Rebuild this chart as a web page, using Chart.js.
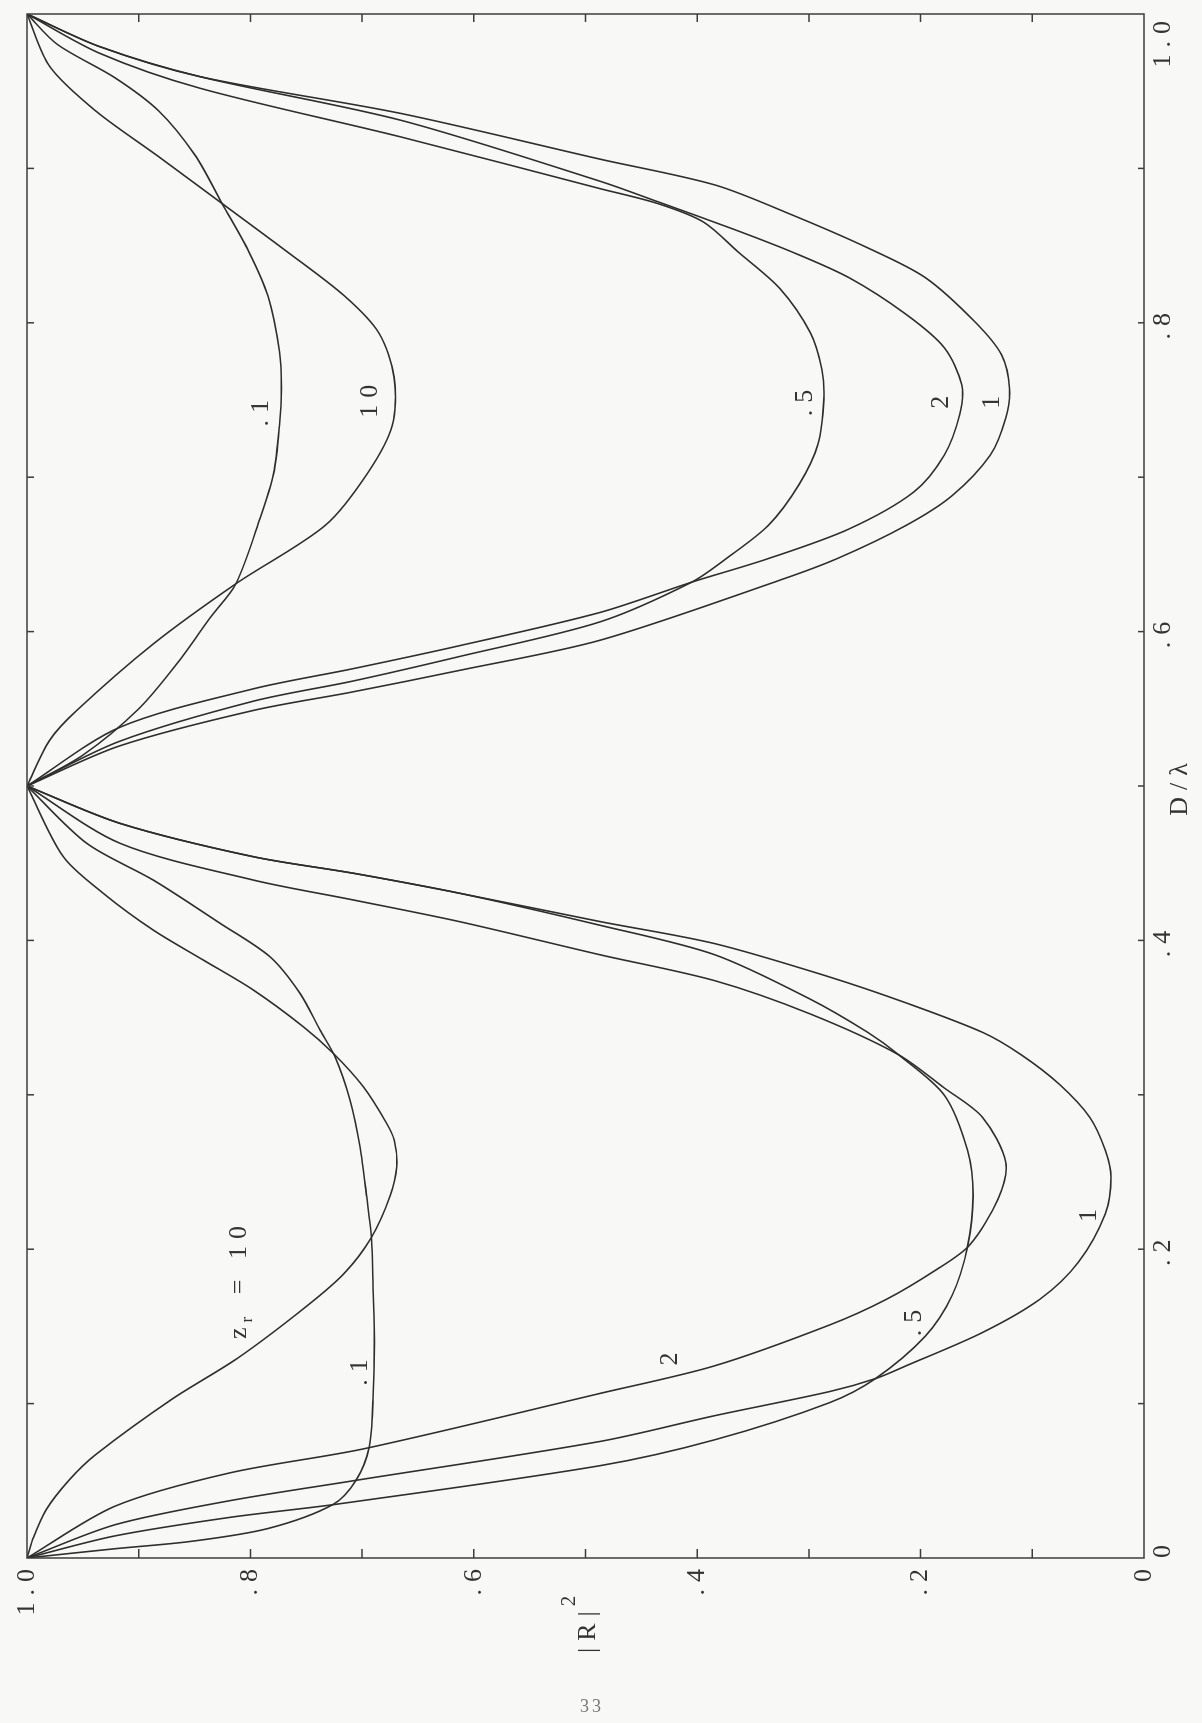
<!DOCTYPE html>
<html>
<head>
<meta charset="utf-8">
<script src="https://cdn.jsdelivr.net/npm/chart.js@4.4.1/dist/chart.umd.min.js"></script>
<style>
html, body { margin: 0; width: 1202px; height: 1723px; overflow: hidden; background: #f8f8f7; }
#turn { position: absolute; left: 0; top: 0; width: 1723px; height: 1202px;
        transform-origin: 0 0; transform: translate(0, 1723px) rotate(-90deg); }
#page { position: absolute; left: 580px; top: 1696px; font: 18px "Liberation Serif", serif;
        color: #777; letter-spacing: 3px; }
</style>
</head>
<body>
<div id="turn"><canvas id="chart" width="1723" height="1202"></canvas></div>
<div id="page">33</div>
<script>
// points are [D/lambda, |R|^2]; each z_r curve in two halves
const z10A = [[0,1],[0.0119,0.995],[0.0311,0.983],[0.0503,0.9625],[0.067,0.9385],[0.103,0.87],[0.1293,0.8117],[0.1629,0.75],[0.1845,0.7158],[0.2073,0.6919],[0.2348,0.6747],[0.2534,0.669],[0.2707,0.6713],[0.2815,0.678],[0.3052,0.6989],[0.3269,0.7258],[0.3441,0.7526],[0.3679,0.7974],[0.3873,0.8422],[0.4067,0.887],[0.4305,0.9317],[0.4542,0.9675],[0.5,1]];
const z01A = [[0,1],[0.006,0.9214],[0.0108,0.8528],[0.0191,0.7843],[0.0347,0.726],[0.0503,0.7055],[0.0719,0.6936],[0.103,0.6902],[0.1389,0.689],[0.1749,0.6902],[0.2072,0.6916],[0.234,0.6959],[0.2664,0.7019],[0.2966,0.7108],[0.3247,0.7243],[0.342,0.7377],[0.3657,0.7556],[0.3894,0.7825],[0.4111,0.8272],[0.4391,0.887],[0.4629,0.9466],[0.5,1]];
const z2A = [[0,1],[0.0335,0.9214],[0.0551,0.8186],[0.0707,0.6987],[0.1066,0.487],[0.1245,0.3842],[0.1509,0.2815],[0.1677,0.2301],[0.1869,0.1855],[0.2025,0.1564],[0.2324,0.1307],[0.2563,0.1238],[0.2853,0.1444],[0.3044,0.1787],[0.326,0.2198],[0.3523,0.2986],[0.3739,0.3842],[0.3907,0.487],[0.4121,0.6124],[0.4262,0.7079],[0.4391,0.7974],[0.4629,0.9167],[0.5,1]];
const z1A = [[0,1],[0.0215,0.9214],[0.0371,0.8186],[0.0503,0.7055],[0.0755,0.487],[0.0922,0.3842],[0.1078,0.2815],[0.1162,0.2404],[0.1245,0.2129],[0.1461,0.1444],[0.1677,0.093],[0.1916,0.0587],[0.2228,0.0347],[0.2468,0.0296],[0.2642,0.0347],[0.2853,0.0484],[0.3069,0.0759],[0.326,0.1101],[0.3404,0.1444],[0.3595,0.2129],[0.3763,0.2815],[0.3979,0.3842],[0.4122,0.487],[0.4305,0.6124],[0.4435,0.7079],[0.4542,0.7974],[0.4758,0.9167],[0.5,1]];
const z05A = [[0,1],[0.0143,0.9214],[0.0263,0.8186],[0.0347,0.7244],[0.0598,0.487],[0.0766,0.3842],[0.1006,0.2815],[0.1162,0.2404],[0.1437,0.1958],[0.1701,0.1718],[0.2012,0.1581],[0.2348,0.153],[0.2642,0.1581],[0.2997,0.1787],[0.326,0.2198],[0.3404,0.2472],[0.3619,0.2986],[0.3907,0.3842],[0.4098,0.487],[0.4305,0.6124],[0.4435,0.7079],[0.4542,0.7974],[0.4758,0.9167],[0.5,1]];

const z01B = [[0.5,1],[0.52,0.95],[0.55,0.9],[0.58,0.865],[0.61,0.835],[0.631,0.813],[0.6736,0.7912],[0.7024,0.7792],[0.7335,0.774],[0.7575,0.7723],[0.7814,0.774],[0.8174,0.7843],[0.8461,0.8014],[0.8773,0.8254],[0.9084,0.8494],[0.9372,0.882],[0.9588,0.9214],[0.9803,0.9728],[1,1]];
const z10B = [[0.5,1],[0.5297,0.9796],[0.5488,0.9557],[0.592,0.887],[0.631,0.813],[0.6688,0.733],[0.7024,0.6953],[0.7335,0.673],[0.7646,0.6713],[0.7934,0.685],[0.8174,0.7158],[0.8461,0.7672],[0.8773,0.8254],[0.9084,0.8837],[0.9372,0.9385],[0.9659,0.9796],[1,1]];
const z1B = [[0.5,1],[0.526,0.917],[0.549,0.797],[0.561,0.708],[0.575,0.612],[0.5944,0.487],[0.6333,0.326],[0.6473,0.2746],[0.6688,0.2129],[0.688,0.1718],[0.7144,0.1375],[0.7383,0.1238],[0.7575,0.1204],[0.779,0.1273],[0.8006,0.1513],[0.8293,0.1958],[0.8485,0.2472],[0.8701,0.3158],[0.8893,0.3842],[0.906,0.487],[0.9357,0.666],[0.9594,0.845],[0.9788,0.9347],[1,1]];
const z2B = [[0.5,1],[0.538,0.917],[0.563,0.797],[0.576,0.708],[0.591,0.612],[0.6124,0.487],[0.632,0.405],[0.6473,0.3363],[0.6664,0.2643],[0.6904,0.2061],[0.7144,0.1787],[0.7407,0.165],[0.7599,0.1632],[0.7838,0.1787],[0.8054,0.2129],[0.8293,0.2643],[0.8461,0.3158],[0.8605,0.367],[0.8785,0.4356],[0.8917,0.487],[0.9313,0.666],[0.9594,0.845],[0.9788,0.9347],[1,1]];
const z05B = [[0.5,1],[0.529,0.917],[0.555,0.797],[0.568,0.708],[0.584,0.612],[0.6063,0.487],[0.632,0.405],[0.6473,0.374],[0.6688,0.3363],[0.6952,0.3089],[0.7215,0.2918],[0.7503,0.2866],[0.7694,0.2883],[0.7934,0.2986],[0.8222,0.326],[0.8461,0.3637],[0.8653,0.3945],[0.8773,0.4356],[0.8869,0.487],[0.9205,0.666],[0.9519,0.845],[0.9745,0.9347],[1,1]];

const tickText = ['0', '.2', '.4', '.6', '.8', '1.0'];

// curve labels, placed at [D/lambda, |R|^2]
const labelText = ['10', '.1', '2', '.5', '1', '.1', '10', '.5', '2', '1'];
const labelD = [0.1807, 0.1224, 0.1311, 0.1545, 0.2241, 0.7437, 0.7515, 0.7503, 0.7508, 0.7508];
const labelR = [0.8098, 0.7014, 0.4238, 0.2054, 0.0492, 0.7905, 0.693, 0.303, 0.1813, 0.136];

const FONT = '"Liberation Serif", serif';
const INK = '#333';

const curves = [z10A, z01A, z2A, z1A, z05A, z01B, z10B, z1B, z2B, z05B];
const datasets = curves.map(c => ({
    data: c.map(p => ({x: p[0], y: p[1]})),
    borderColor: '#2e2e2e',
    borderWidth: 1.6,
    pointRadius: 0,
    fill: false,
    tension: 0.3
}));

const spacing = {
    id: 'spacing',
    beforeDraw(chart) {
        chart.ctx.letterSpacing = '7px';
    }
};

const frame = {
    id: 'frame',
    afterDatasetsDraw(chart) {
        const ctx = chart.ctx;
        const a = chart.chartArea;
        const x = chart.scales.x;
        const y = chart.scales.y;
        ctx.save();
        ctx.strokeStyle = '#3c3c3c';
        ctx.lineWidth = 1.5;
        ctx.strokeRect(a.left, a.top, a.right - a.left, a.bottom - a.top);
        ctx.beginPath();
        for (let i = 1; i < 10; i++) {
            const px = x.getPixelForValue(i / 10);
            const py = y.getPixelForValue(i / 10);
            ctx.moveTo(px, a.top); ctx.lineTo(px, a.top + 7);
            ctx.moveTo(px, a.bottom); ctx.lineTo(px, a.bottom - 6);
            ctx.moveTo(a.left, py); ctx.lineTo(a.left + 9, py);
            ctx.moveTo(a.right, py); ctx.lineTo(a.right - 8, py);
        }
        ctx.stroke();
        ctx.restore();
    }
};

const texts = {
    id: 'texts',
    afterDraw(chart) {
        const ctx = chart.ctx;
        const x = chart.scales.x;
        const y = chart.scales.y;
        const a = chart.chartArea;
        ctx.save();
        ctx.fillStyle = INK;
        ctx.textBaseline = 'middle';
        for (let i = 0; i < labelText.length; i++) {
            const px = x.getPixelForValue(labelD[i]);
            const py = y.getPixelForValue(labelR[i]);
            if (i === 0) {
                // z_r = 10
                ctx.font = '26px ' + FONT;
                const wz = ctx.measureText('z').width;
                const rest = ' = ' + labelText[i];
                const wRest = ctx.measureText(rest).width;
                ctx.font = '17px ' + FONT;
                const wr = ctx.measureText('r').width;
                let sx = px - (wz + wr + wRest) / 2;
                ctx.textAlign = 'left';
                ctx.font = '26px ' + FONT;
                ctx.fillText('z', sx, py);
                ctx.font = '17px ' + FONT;
                ctx.fillText('r', sx + wz - 2, py + 8);
                ctx.font = '26px ' + FONT;
                ctx.fillText(rest, sx + wz + wr, py);
            } else {
                ctx.font = '26px ' + FONT;
                ctx.textAlign = 'center';
                ctx.fillText(labelText[i], px, py);
            }
        }
        // axis titles
        ctx.font = '26px ' + FONT;
        ctx.textAlign = 'center';
        ctx.fillText('D/\u03bb', x.getPixelForValue(0.5), a.bottom + 36);
        const base = y.getPixelForValue(0.5) + 9;
        ctx.textAlign = 'left';
        ctx.textBaseline = 'alphabetic';
        const sx = 70;
        ctx.fillText('|R|', sx, base);
        const w = ctx.measureText('|R|').width;
        ctx.font = '21px ' + FONT;
        ctx.fillText('2', sx + w - 2, base - 20);
        ctx.restore();
    }
};

new Chart(document.getElementById('chart'), {
    type: 'line',
    data: {datasets: datasets},
    plugins: [spacing, frame, texts],
    options: {
        responsive: false,
        animation: false,
        events: [],
        layout: {autoPadding: false, padding: {left: 0, right: 14, top: 27, bottom: 0}},
        plugins: {legend: {display: false}, tooltip: {enabled: false}},
        scales: {
            x: {
                type: 'linear', min: 0, max: 1,
                afterFit(s) { s.height = 58; },
                grid: {display: false, drawTicks: false},
                border: {display: false},
                ticks: {
                    stepSize: 0.2, autoSkip: false, maxRotation: 0, align: 'inner', padding: 4,
                    color: INK, font: {family: FONT, size: 26},
                    callback: v => tickText[Math.round(v * 5)]
                }
            },
            y: {
                type: 'linear', min: 0, max: 1,
                afterFit(s) { s.width = 165; },
                grid: {display: false, drawTicks: false},
                border: {display: false},
                ticks: {
                    stepSize: 0.2, autoSkip: false, padding: 4,
                    color: INK, font: {family: FONT, size: 26},
                    callback: v => tickText[Math.round(v * 5)]
                }
            }
        }
    }
});
</script>
</body>
</html>
